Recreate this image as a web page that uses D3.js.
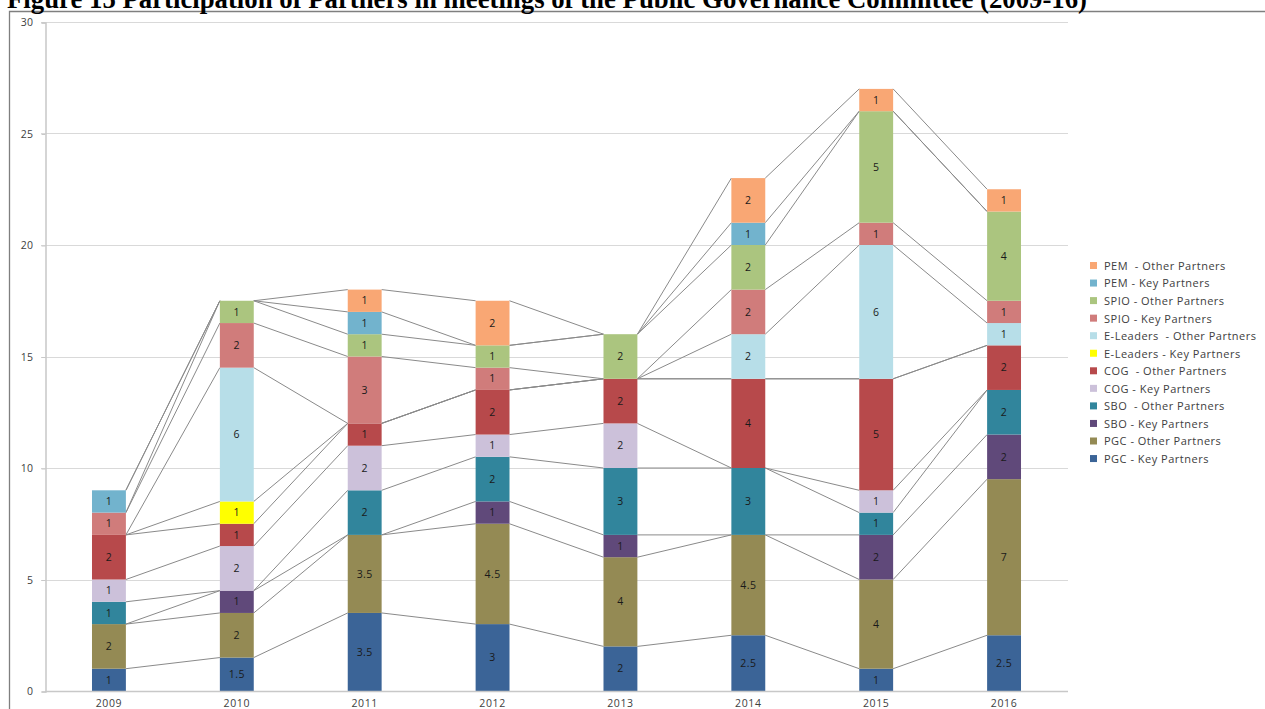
<!DOCTYPE html>
<html>
<head>
<meta charset="utf-8">
<script src="https://cdn.jsdelivr.net/npm/d3@7"></script>
<style>
  html, body { margin: 0; padding: 0; background: #fff; }
  svg { display: block; }
  .pre { white-space: pre; }
</style>
</head>
<body>
<svg id="chart" width="1265" height="709"></svg>
<script>
// Meeting years
const years = ["2009", "2010", "2011", "2012", "2013", "2014", "2015", "2016"];

// Series, bottom of the stack first
const seriesNames = [
  "PGC - Key Partners",
  "PGC - Other Partners",
  "SBO - Key Partners",
  "SBO  - Other Partners",
  "COG - Key Partners",
  "COG  - Other Partners",
  "E-Leaders - Key Partners",
  "E-Leaders  - Other Partners",
  "SPIO - Key Partners",
  "SPIO - Other Partners",
  "PEM - Key Partners",
  "PEM  - Other Partners"
];

// Participation per series, one value per year
const pgcKey      = [1, 1.5, 3.5, 3, 2, 2.5, 1, 2.5];
const pgcOther    = [2, 2, 3.5, 4.5, 4, 4.5, 4, 7];
const sboKey      = [0, 1, 0, 1, 1, 0, 2, 2];
const sboOther    = [1, 0, 2, 2, 3, 3, 1, 2];
const cogKey      = [1, 2, 2, 1, 2, 0, 1, 0];
const cogOther    = [2, 1, 1, 2, 2, 4, 5, 2];
const eLeadKey    = [0, 1, 0, 0, 0, 0, 0, 0];
const eLeadOther  = [0, 6, 0, 0, 0, 2, 6, 1];
const spioKey     = [1, 2, 3, 1, 0, 2, 1, 1];
const spioOther   = [0, 1, 1, 1, 2, 2, 5, 4];
const pemKey      = [1, 0, 1, 0, 0, 1, 0, 0];
const pemOther    = [0, 0, 1, 2, 0, 2, 1, 1];

const seriesValues = [pgcKey, pgcOther, sboKey, sboOther, cogKey, cogOther,
                      eLeadKey, eLeadOther, spioKey, spioOther, pemKey, pemOther];

const seriesColors = ["#3B6497", "#948A54", "#60497A", "#31859C", "#CCC1DA", "#B7494B",
                      "#FFFF00", "#B7DEE8", "#D07C7B", "#ABC57F", "#72B3CD", "#F9A774"];

const yTicks = [0, 5, 10, 15, 20, 25, 30];

const svg = d3.select("#chart");
const W = 1265, H = 709;

// Outer frame of the chart object
svg.append("path")
  .attr("d", `M9.5,${H} V11.5 H${W}`)
  .attr("fill", "none").attr("stroke", "#7f7f7f").attr("stroke-width", 1.3);

// Title (runs past the top edge of the page)
svg.append("text")
  .attr("x", 7).attr("y", 8)
  .attr("font-family", "Liberation Serif, Times New Roman, serif")
  .attr("font-weight", "bold").attr("font-size", 26.5)
  .attr("textLength", 1080).attr("lengthAdjust", "spacingAndGlyphs")
  .attr("fill", "#000")
  .text("Figure 15 Participation of Partners in meetings of the Public Governance Committee (2009-16)");

const plot = { left: 45, right: 1068, top: 22, bottom: 691 };

const x = d3.scaleBand().domain(years).range([plot.left, plot.right]).paddingInner(0.735).paddingOuter(0.3675);
const y = d3.scaleLinear().domain([0, 30]).range([plot.bottom, plot.top]);

// Gridlines
svg.append("g").selectAll("line").data(yTicks.filter(d => d > 0)).join("line")
  .attr("x1", plot.left - 4).attr("x2", plot.right)
  .attr("y1", d => Math.round(y(d)) + 0.5).attr("y2", d => Math.round(y(d)) + 0.5)
  .attr("stroke", "#d9d9d9").attr("stroke-width", 1);

// Y axis
const yAxis = svg.append("g").attr("transform", `translate(${plot.left + 0.5},0.5)`)
  .call(d3.axisLeft(y).tickValues(yTicks).tickSize(4).tickPadding(8));
yAxis.select(".domain").attr("stroke", "#c8c8c8").attr("stroke-width", 1.5);
yAxis.selectAll(".tick line").attr("stroke", "#c8c8c8");
yAxis.selectAll("text").attr("font-family", "Open Sans, sans-serif").attr("font-size", 10.5)
  .attr("letter-spacing", 0.4).attr("fill", "#404040");

// Stack the series
const table = years.map((yr, i) => {
  const row = { year: yr };
  seriesNames.forEach((s, k) => row[s] = seriesValues[k][i]);
  return row;
});
const stacked = d3.stack().keys(seriesNames)(table);

// Series lines between neighbouring bars
const lineG = svg.append("g");
stacked.forEach(layer => {
  for (let i = 0; i < years.length - 1; i++) {
    lineG.append("line")
      .attr("x1", x(years[i]) + x.bandwidth()).attr("y1", y(layer[i][1]))
      .attr("x2", x(years[i + 1])).attr("y2", y(layer[i + 1][1]))
      .attr("stroke", "#8a8a8a").attr("stroke-width", 1);
  }
});

// Bars
const barG = svg.append("g");
stacked.forEach((layer, k) => {
  barG.selectAll(null).data(layer).join("rect")
    .attr("x", d => x(d.data.year))
    .attr("width", x.bandwidth())
    .attr("y", d => y(d[1]))
    .attr("height", d => y(d[0]) - y(d[1]))
    .attr("fill", seriesColors[k]);
});

// Value labels
const labG = svg.append("g");
stacked.forEach((layer, k) => {
  labG.selectAll(null).data(layer.filter(d => d[1] - d[0] > 0)).join("text")
    .attr("x", d => x(d.data.year) + x.bandwidth() / 2)
    .attr("y", d => (y(d[0]) + y(d[1])) / 2)
    .attr("dy", "0.35em")
    .attr("text-anchor", "middle")
    .attr("font-family", "Open Sans, sans-serif").attr("font-size", 10.5)
    .attr("letter-spacing", 0.4)
    .attr("fill", "#1a1a1a")
    .text(d => d[1] - d[0]);
});

// X axis
svg.append("line")
  .attr("x1", plot.left).attr("x2", plot.right)
  .attr("y1", plot.bottom + 0.5).attr("y2", plot.bottom + 0.5)
  .attr("stroke", "#c8c8c8").attr("stroke-width", 1.5);
svg.append("g").selectAll("text").data(years).join("text")
  .attr("x", d => x(d) + x.bandwidth() / 2)
  .attr("y", plot.bottom + 16)
  .attr("text-anchor", "middle")
  .attr("font-family", "Open Sans, sans-serif").attr("font-size", 10.5)
  .attr("letter-spacing", 0.6)
  .attr("fill", "#404040")
  .text(d => d);

// Legend, top entry is the top of the stack
const legendOrder = seriesNames.map((s, k) => k).reverse();
const legG = svg.append("g").attr("transform", "translate(1090,266)");
legendOrder.forEach((k, i) => {
  const row = legG.append("g").attr("transform", `translate(0,${i * 17.55})`);
  row.append("rect").attr("x", 0).attr("y", -4).attr("width", 7).attr("height", 7).attr("fill", seriesColors[k]);
  row.append("text").attr("class", "pre").attr("x", 14).attr("y", 0).attr("dy", "0.35em")
    .attr("font-family", "Open Sans, sans-serif").attr("font-size", 11)
    .attr("letter-spacing", 0.5)
    .attr("fill", "#404040")
    .text(seriesNames[k]);
});
</script>
</body>
</html>
